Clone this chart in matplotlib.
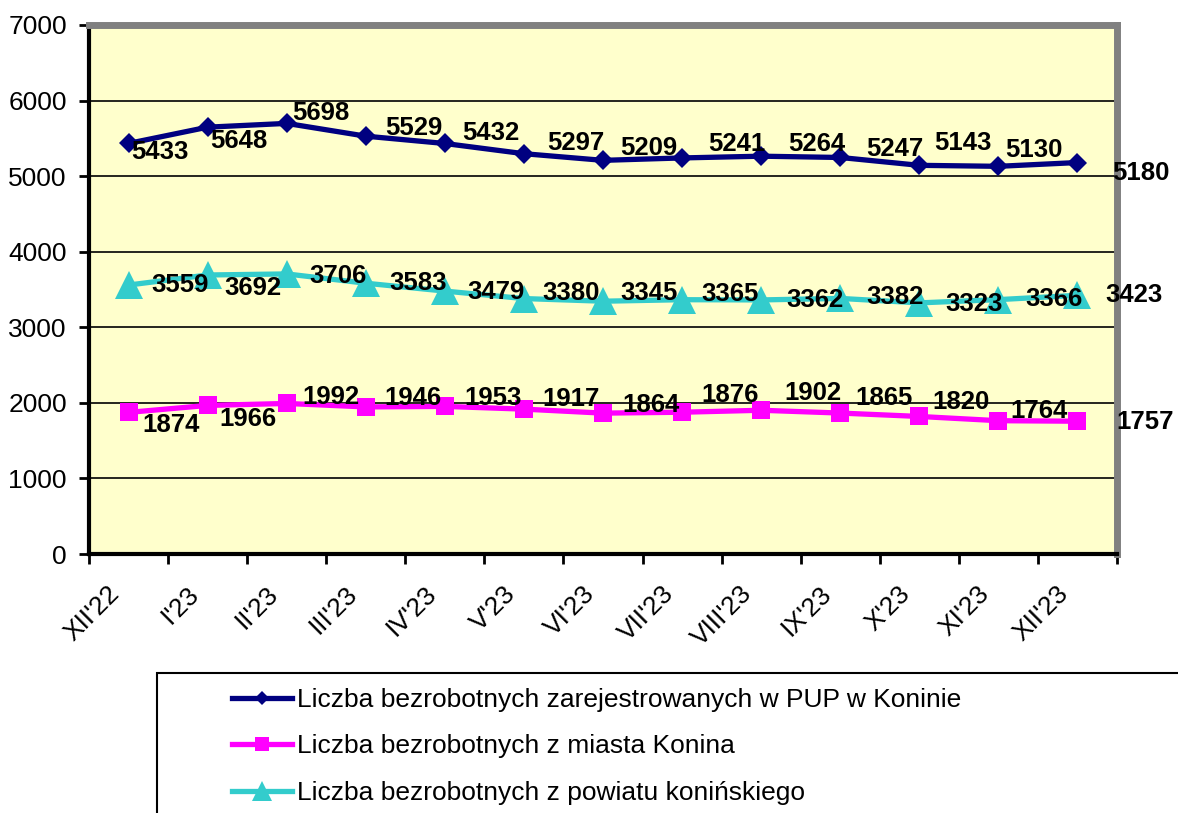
import matplotlib
matplotlib.use("Agg")
import matplotlib.pyplot as plt
from matplotlib.patches import Rectangle
from matplotlib.transforms import ScaledTranslation
from matplotlib.ticker import FixedLocator

plt.rcParams['font.family'] = ['Liberation Sans', 'DejaVu Sans']

months = ["XII'22", "I'23", "II'23", "III'23", "IV'23", "V'23", "VI'23",
          "VII'23", "VIII'23", "IX'23", "X'23", "XI'23", "XII'23"]
pup_total = [5433, 5648, 5698, 5529, 5432, 5297, 5209, 5241, 5264, 5247, 5143, 5130, 5180]
city = [1874, 1966, 1992, 1946, 1953, 1917, 1864, 1876, 1902, 1865, 1820, 1764, 1757]
county = [3559, 3692, 3706, 3583, 3479, 3380, 3345, 3365, 3362, 3382, 3323, 3366, 3423]

names = ["Liczba bezrobotnych zarejestrowanych w PUP w Koninie",
         "Liczba bezrobotnych z miasta Konina",
         "Liczba bezrobotnych z powiatu konińskiego"]

# label offsets in pixels (right, down) - labels were moved by hand in the original
off_total = [(3, 9), (3, 14), (5, -10), (19, -8), (17, -10), (23, -11), (17, -12),
             (26, -14), (27, -12), (26, -8), (15, -22), (7, -16), (35, 10)]
off_county = [(23, 0), (17, 13), (23, 2), (24, 0), (23, 1), (18, -6), (17, -8),
              (19, -6), (25, 0), (26, -1), (26, 1), (27, -1), (28, 0)]
off_city = [(14, 13), (12, 14), (16, -6), (19, -9), (20, -8), (18, -10), (19, -8),
            (19, -17), (23, -17), (15, -15), (13, -14), (12, -10), (39, 1)]

W, H = 1178, 813
fig = plt.figure(figsize=(W / 100, H / 100), dpi=100)
ax = fig.add_axes([89 / W, 1 - 554 / H, (1117 - 89) / W, (554 - 25) / H])
ax.set_facecolor('#FFFFCC')

x = list(range(len(months)))
l1, = ax.plot(x, pup_total, color='#000080', lw=3.8, marker='D', ms=10.5, mew=0, zorder=3)
l2, = ax.plot(x, city, color='#FF00FF', lw=3.8, marker='s', ms=13.5, mew=0, zorder=3)
l3, = ax.plot(x, county, color='#33CCCC', lw=3.8, marker='^', ms=20, mew=0, zorder=3)

for vals, offs in [(pup_total, off_total), (county, off_county), (city, off_city)]:
    for i, v in enumerate(vals):
        dx, dy = offs[i]
        ax.annotate(str(v), (i, v), xytext=(dx * 0.72, -dy * 0.72), textcoords='offset points',
                    ha='left', va='center', fontsize=18.5, fontweight='bold', zorder=4,
                    annotation_clip=False)

ax.set_ylim(0, 7000)
ax.set_xlim(-0.5, len(months) - 0.5)
ax.set_yticks(range(0, 7001, 1000))
ax.yaxis.grid(True, color='black', lw=1.2)
ax.set_axisbelow(True)

ax.set_xticks(x)
ax.set_xticklabels(months, rotation=45, ha='right', va='top', rotation_mode='anchor')
ax.xaxis.set_minor_locator(FixedLocator([i - 0.5 for i in range(len(months) + 1)]))
ax.tick_params(axis='x', which='major', length=0, pad=20, labelsize=19)
ax.tick_params(axis='x', which='minor', length=7, width=2, direction='out')
ax.tick_params(axis='y', length=7, width=2, direction='out', pad=9, labelsize=19)
shift = ScaledTranslation(-0.21, 0, fig.dpi_scale_trans)
for lab in ax.get_xticklabels():
    lab.set_transform(lab.get_transform() + shift)

for s in ['top', 'right']:
    ax.spines[s].set_color('#808080')
    ax.spines[s].set_linewidth(5)
for s in ['left', 'bottom']:
    ax.spines[s].set_color('black')
    ax.spines[s].set_linewidth(3)

# legend box runs off the bottom right edge of the picture
fig.patches.append(Rectangle((157 / W, -0.1), 1.0, 0.1 + (813 - 673) / H,
                             transform=fig.transFigure, facecolor='white',
                             edgecolor='black', lw=1.5))
fig.legend([l1, l2, l3], names, loc='upper left', bbox_to_anchor=(232 / W, 1 - 688 / H),
           frameon=False, fontsize=19, handlelength=2.27, handletextpad=0.2,
           labelspacing=0.85, borderpad=0, borderaxespad=0,
           markerscale=0.7)

fig.savefig('out.png', dpi=100)
